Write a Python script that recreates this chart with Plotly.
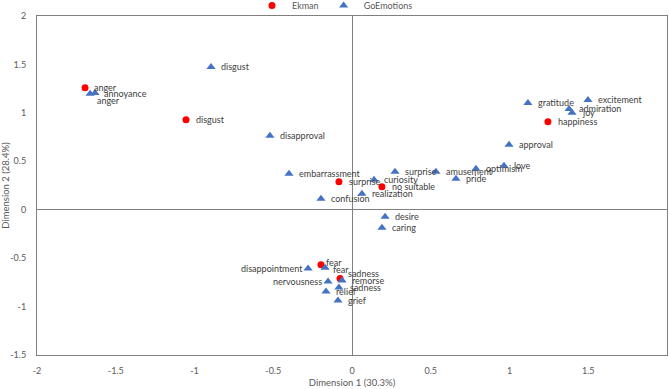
import plotly.graph_objects as go

# ---- data ----
ekman_labels = ["anger", "disgust", "happiness", "surprise", "no suitable", "fear", "sadness"]
ekman_x = [-1.695, -1.054, 1.244, -0.083, 0.19, -0.197, -0.076]
ekman_y = [1.258, 0.928, 0.907, 0.289, 0.237, -0.567, -0.711]

go_labels = ["disgust", "anger", "annoyance", "disapproval", "embarrassment", "confusion",
             "surprise", "curiosity", "realization", "amusement", "optimism", "love", "pride",
             "approval", "gratitude", "excitement", "admiration", "joy", "desire", "caring",
             "disappointment", "fear", "nervousness", "remorse", "sadness", "relief", "grief"]
go_x = [-0.895, -1.663, -1.632, -0.521, -0.40, -0.197, 0.273, 0.14, 0.063, 0.533, 0.787, 0.965,
        0.66, 0.997, 1.117, 1.498, 1.378, 1.397, 0.21, 0.19, -0.279, -0.171, -0.152, -0.063,
        -0.083, -0.165, -0.089]
go_y = [1.474, 1.196, 1.206, 0.763, 0.371, 0.113, 0.392, 0.309, 0.165, 0.392, 0.423, 0.454,
        0.32, 0.67, 1.103, 1.134, 1.041, 1.0, -0.072, -0.186, -0.608, -0.598, -0.742, -0.732,
        -0.804, -0.845, -0.938]

x_ticks = [-2, -1.5, -1, -0.5, 0, 0.5, 1, 1.5, 2]
x_ticktext = ["-2", "-1.5", "-1", "-0.5", "0", "0.5", "1", "1.5", "2"]
y_ticks = [-1.5, -1, -0.5, 0, 0.5, 1, 1.5, 2]
y_ticktext = ["-1.5", "-1", "-0.5", "0", "0.5", "1", "1.5", "2"]

# ---- label placement (pixel offsets) ----
default_off = (8, 0, "left")
ekman_off = {"anger": (7, 0, "left"), "sadness": (6, -5, "left"), "fear": (3, -2, "left")}
go_off = {"anger": (5, 7, "left"), "annoyance": (7, 1, "left"), "fear": (6, 2, "left"),
          "disappointment": (-3, 0, "right"), "nervousness": (-4, 0, "right"),
          "sadness": (9, 0, "left")}

FONT = "Lato, Carlito, Calibri, sans-serif"
TXT = "#404040"
AX = "#595959"

fig = go.Figure()
fig.add_trace(go.Scatter(x=ekman_x, y=ekman_y, mode="markers", name="Ekman",
                         marker=dict(symbol="circle", size=7, color="#FF0000")))
fig.add_trace(go.Scatter(x=go_x, y=go_y, mode="markers", name="GoEmotions",
                         marker=dict(symbol="triangle-up", size=8, color="#4472C4")))

ann = []
for labs, xs, ys, offs in [(ekman_labels, ekman_x, ekman_y, ekman_off),
                            (go_labels, go_x, go_y, go_off)]:
    for l, x, y in zip(labs, xs, ys):
        dx, dy, anc = offs.get(l, default_off)
        ann.append(dict(x=x, y=y, text=l, showarrow=False, xanchor=anc, yanchor="middle",
                        xshift=dx, yshift=-dy, font=dict(family=FONT, size=9, color=TXT)))

fig.update_layout(
    width=669, height=389,
    margin=dict(l=37, r=2, t=16, b=34, autoexpand=False),
    paper_bgcolor="white", plot_bgcolor="white",
    font=dict(family=FONT, size=9, color=AX),
    annotations=ann,
    showlegend=True,
    legend=dict(orientation="h", x=0.473, xanchor="center", y=1.074, yanchor="top",
                font=dict(family=FONT, size=9, color=AX),
                itemwidth=30, tracegroupgap=0, bgcolor="rgba(0,0,0,0)"),
    xaxis=dict(range=[-2, 2], tickvals=x_ticks, ticktext=x_ticktext, automargin=False,
               showgrid=False, zeroline=True, zerolinecolor="#808080", zerolinewidth=1,
               showline=True, mirror=True, linecolor="#808080", linewidth=1,
               ticks="outside", ticklen=7, tickcolor="rgba(0,0,0,0)",
               title=dict(text="Dimension 1 (30.3%)", standoff=4,
                          font=dict(family=FONT, size=9.5, color=AX))),
    yaxis=dict(range=[-1.5, 2], tickvals=y_ticks, ticktext=y_ticktext, automargin=False,
               showgrid=False, zeroline=True, zerolinecolor="#808080", zerolinewidth=1,
               showline=True, mirror=True, linecolor="#808080", linewidth=1,
               ticks="outside", ticklen=8, tickcolor="rgba(0,0,0,0)",
               title=dict(text="Dimension 2 (28.4%)", standoff=0,
                          font=dict(family=FONT, size=9.5, color=AX))),
)

fig.write_html("out.html", config={"displayModeBar": False},
               post_script="document.body.style.margin='0';document.body.style.overflow='hidden';")
